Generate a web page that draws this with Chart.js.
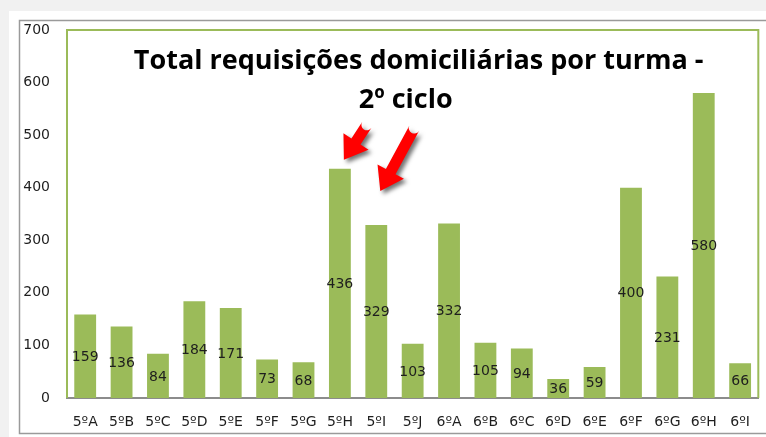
<!DOCTYPE html>
<html>
<head>
<meta charset="utf-8">
<script src="https://cdn.jsdelivr.net/npm/chart.js@4"></script>
<style>
  html, body { margin: 0; padding: 0; background: #fff; }
  #wrap { width: 766px; height: 437px; }
</style>
</head>
<body>
<div id="wrap"><canvas id="grafico" width="766" height="437"></canvas></div>
<script>
// turmas e totais de requisições
var turmas = ["5ºA", "5ºB", "5ºC", "5ºD", "5ºE", "5ºF", "5ºG", "5ºH", "5ºI", "5ºJ",
              "6ºA", "6ºB", "6ºC", "6ºD", "6ºE", "6ºF", "6ºG", "6ºH", "6ºI"]
var requisicoes = [159, 136, 84, 184, 171, 73, 68, 436, 329, 103,
                   332, 105, 94, 36, 59, 400, 231, 580, 66]
var titulo = ["Total requisições domiciliárias por turma -", "2º ciclo"]
var yMax = 700
var yStep = 100
// turmas assinaladas com seta
var setas = ["5ºH", "5ºI"]

var verde = "#9bbb59"
var corTexto = "#1e1e1e"

// moldura da página e do gráfico
const moldura = {
    id: "moldura",
    beforeDraw(chart) {
        const ctx = chart.ctx
        ctx.save()
        ctx.fillStyle = "#f1f1f1"
        ctx.fillRect(0, 0, chart.width, chart.height)
        ctx.fillStyle = "#ffffff"
        ctx.fillRect(9, 11, chart.width, chart.height)
        ctx.strokeStyle = "#9a9a9a"
        ctx.lineWidth = 1.5
        ctx.strokeRect(19.5, 20.5, chart.width + 10, 413)
        ctx.restore()
    },
    beforeDatasetsDraw(chart) {
        const a = chart.chartArea
        const ctx = chart.ctx
        ctx.save()
        ctx.strokeStyle = verde
        ctx.lineWidth = 2
        ctx.beginPath()
        ctx.moveTo(a.left, a.bottom)
        ctx.lineTo(a.left, a.top)
        ctx.lineTo(a.right, a.top)
        ctx.lineTo(a.right, a.bottom)
        ctx.stroke()
        ctx.restore()
    }
}

// valores no meio das barras
const rotulos = {
    id: "rotulos",
    afterDatasetsDraw(chart) {
        const ctx = chart.ctx
        const meta = chart.getDatasetMeta(0)
        ctx.save()
        ctx.font = "14px 'DejaVu Sans'"
        ctx.fillStyle = corTexto
        ctx.textAlign = "center"
        ctx.textBaseline = "middle"
        meta.data.forEach((bar, i) => {
            ctx.fillText(String(requisicoes[i]), bar.x, (bar.y + bar.base) / 2 + 1)
        })
        ctx.restore()
    }
}

function desenhaSeta(ctx, tx, ty, px, py) {
    let dx = px - tx, dy = py - ty
    let len = Math.sqrt(dx * dx + dy * dy)
    let ux = dx / len, uy = dy / len
    let nx = -uy, ny = ux
    let hl = 22, hw = 15, sw = 5.5
    let bx = px - ux * hl, by = py - uy * hl
    ctx.beginPath()
    ctx.moveTo(tx + nx * sw, ty + ny * sw)
    ctx.lineTo(bx + nx * sw, by + ny * sw)
    ctx.lineTo(bx + nx * hw, by + ny * hw)
    ctx.lineTo(px, py)
    ctx.lineTo(bx - nx * hw, by - ny * hw)
    ctx.lineTo(bx - nx * sw, by - ny * sw)
    ctx.lineTo(tx - nx * sw, ty - ny * sw)
    ctx.arc(tx, ty, sw, Math.atan2(-ny, -nx), Math.atan2(ny, nx))
    ctx.closePath()
    ctx.fill()
}

// título e setas por cima da área do gráfico
const titulos = {
    id: "titulos",
    afterDraw(chart) {
        const a = chart.chartArea
        const ctx = chart.ctx
        const meta = chart.getDatasetMeta(0)
        ctx.save()
        ctx.fillStyle = "#000"
        ctx.font = "bold 27px 'Open Sans'"
        ctx.textAlign = "center"
        ctx.textBaseline = "alphabetic"
        const cx = (a.left + a.right) / 2
        ctx.fillText(titulo[0], cx + 6, a.top + 39)
        ctx.fillText(titulo[1], cx - 7, a.top + 78)

        ctx.fillStyle = "#ff0000"
        ctx.shadowColor = "rgba(0,0,0,0.55)"
        ctx.shadowBlur = 4
        ctx.shadowOffsetX = 3
        ctx.shadowOffsetY = 3
        let b1 = meta.data[turmas.indexOf(setas[0])]
        let b2 = meta.data[turmas.indexOf(setas[1])]
        desenhaSeta(ctx, b1.x + 27, b1.y - 44, b1.x + 4, b1.y - 9)
        desenhaSeta(ctx, b2.x + 38, b2.y - 97, b2.x + 4, b2.y - 34)
        ctx.restore()
    }
}

var chartTurmas = new Chart(document.getElementById("grafico").getContext("2d"), {
    type: "bar",
    data: {
        labels: turmas,
        datasets: [{
            label: "Total",
            data: requisicoes,
            backgroundColor: verde,
            borderWidth: 0,
            categoryPercentage: 1,
            barPercentage: 0.6
        }]
    },
    options: {
        responsive: false,
        animation: false,
        layout: { padding: { left: 0, top: 30, right: 2, bottom: 0 } },
        plugins: {
            legend: { display: false },
            tooltip: { enabled: false },
            title: { display: false }
        },
        scales: {
            x: {
                grid: { display: false, drawTicks: false },
                border: { display: true, color: "#8c8c8c", width: 2 },
                ticks: {
                    color: corTexto,
                    font: { family: "DejaVu Sans", size: 14 },
                    padding: 16,
                    maxRotation: 0,
                    autoSkip: false
                },
                afterFit: (scale) => { scale.height = 39 }
            },
            y: {
                min: 0,
                max: yMax,
                grid: { display: false, drawTicks: false },
                border: { display: false },
                ticks: {
                    stepSize: yStep,
                    color: corTexto,
                    font: { family: "DejaVu Sans", size: 14 },
                    padding: 17
                },
                afterFit: (scale) => { scale.width = 67 }
            }
        }
    },
    plugins: [moldura, rotulos, titulos]
})
</script>
</body>
</html>
